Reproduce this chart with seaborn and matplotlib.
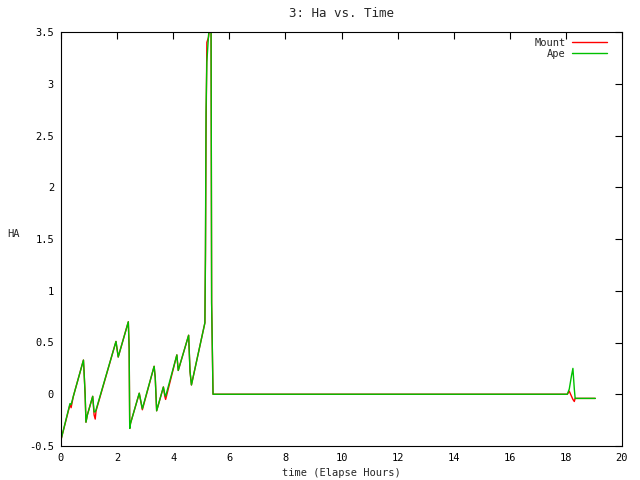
import numpy as np
import pandas as pd
import seaborn as sns
import matplotlib.pyplot as plt

# elapsed time (hours) and hour angle readings
time_hours = [0.0, 0.32, 0.36, 0.44, 0.80, 0.82, 0.86, 0.89, 0.94, 1.13, 1.18,
              1.22, 1.25, 1.96, 2.04, 2.40, 2.43, 2.45, 2.48, 2.79, 2.90, 3.32,
              3.36, 3.41, 3.65, 3.70, 3.73, 4.13, 4.18, 4.55, 4.60, 4.65, 5.13,
              5.15, 5.17, 5.20, 5.26, 5.30, 5.35, 5.37, 5.42, 18.05, 18.12,
              18.20, 18.25, 18.30, 18.33, 19.05]
ha_ape = [-0.44, -0.09, -0.10, -0.02, 0.33, 0.23, 0.0, -0.27, -0.20, -0.02,
          -0.17, -0.17, -0.15, 0.51, 0.36, 0.70, 0.44, -0.33, -0.28, 0.01,
          -0.14, 0.27, 0.16, -0.16, 0.07, 0.0, -0.02, 0.38, 0.23, 0.57, 0.22,
          0.09, 0.69, 1.38, 2.73, 3.21, 3.47, 3.55, 3.55, 0.88, 0.0, 0.0,
          0.05, 0.18, 0.25, 0.05, -0.04, -0.04]
ha_mount = [-0.44, -0.10, -0.13, -0.02, 0.33, 0.23, 0.0, -0.27, -0.20, -0.02,
            -0.20, -0.24, -0.16, 0.51, 0.36, 0.70, 0.44, -0.33, -0.28, 0.01,
            -0.15, 0.27, 0.16, -0.16, 0.07, -0.02, -0.05, 0.38, 0.23, 0.57,
            0.22, 0.09, 0.69, 1.30, 2.50, 3.40, 3.45, 3.55, 3.55, 0.88, 0.0,
            0.0, 0.03, -0.02, -0.05, -0.07, -0.04, -0.04]

xticks = [0, 2, 4, 6, 8, 10, 12, 14, 16, 18, 20]
yticks = [-0.5, 0, 0.5, 1, 1.5, 2, 2.5, 3, 3.5]
ytick_labels = ['-0.5', '0', '0.5', '1', '1.5', '2', '2.5', '3', '3.5']

df = pd.concat([
    pd.DataFrame({'time': time_hours, 'HA': ha_mount, 'src': 'Mount'}),
    pd.DataFrame({'time': time_hours, 'HA': ha_ape, 'src': 'Ape'}),
])

sns.set_style('white')
plt.rcParams['font.family'] = ['DejaVu Sans Mono']
plt.rcParams['font.size'] = 7.5
plt.rcParams['axes.unicode_minus'] = False

fig = plt.figure(figsize=(6.4, 4.8), dpi=100)
ax = fig.add_axes([61 / 640, 34 / 480, 561 / 640, 414 / 480])

sns.lineplot(data=df, x='time', y='HA', hue='src', estimator=None, sort=False,
             palette={'Mount': '#ff0000', 'Ape': '#00c000'}, linewidth=1.0, ax=ax)

ax.set_xlim(0, 20)
ax.set_ylim(-0.5, 3.5)
ax.set_xticks(xticks)
ax.set_xticklabels([str(t) for t in xticks])
ax.set_yticks(yticks)
ax.set_yticklabels(ytick_labels)
ax.tick_params(direction='in', length=5, width=0.8, top=True, right=True,
               colors='black', pad=5)
for s in ax.spines.values():
    s.set_color('black')
    s.set_linewidth(0.8)

ax.set_title('3: Ha vs. Time', pad=11)
ax.set_xlabel('time (Elapse Hours)', labelpad=4)
ax.set_ylabel('HA', rotation=0, labelpad=12)
ax.yaxis.set_label_coords(-0.085, 0.5)

ax.legend(loc='upper right', bbox_to_anchor=(0.978, 0.993), frameon=False,
          markerfirst=False, handlelength=3.3, borderaxespad=0, borderpad=0.3,
          labelspacing=0.1, handletextpad=0.6, title=None)

plt.savefig('out.png', dpi=100)
